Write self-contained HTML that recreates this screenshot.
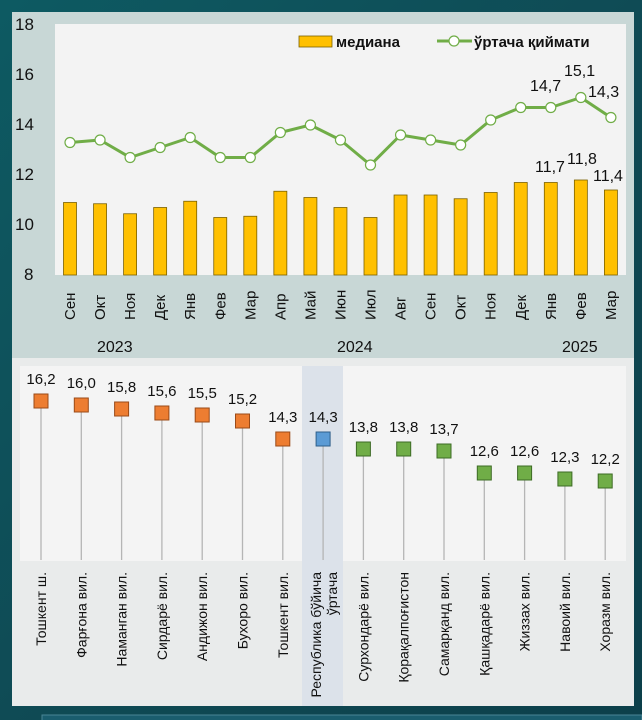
<!DOCTYPE html>
<html><head><meta charset="utf-8"><style>
html,body{margin:0;padding:0;width:642px;height:720px;overflow:hidden;background:#0f4d57;}
svg{display:block;font-family:"Liberation Sans",sans-serif;}
</style></head><body>
<svg width="642" height="720" viewBox="0 0 642 720">
<defs><linearGradient id="bg" x1="0" y1="0" x2="1" y2="1"><stop offset="0" stop-color="#0d5a62"/><stop offset="0.5" stop-color="#0f4b55"/><stop offset="1" stop-color="#0c3f4a"/></linearGradient></defs>
<rect width="642" height="720" fill="url(#bg)"/>
<rect x="12" y="12" width="622" height="346" fill="#c8d7d6"/>
<rect x="55" y="24" width="571" height="251" fill="#f3f3f3"/>
<rect x="12" y="358" width="622" height="348" fill="#e9ebeb"/>
<rect x="20" y="366" width="606" height="195" fill="#f4f4f4"/>
<rect x="302" y="366" width="41" height="340" fill="#dce2ea"/>
<rect x="42" y="715" width="600" height="10" fill="#1a5d6e" stroke="#4a8595"/>
<g font-size="17" fill="#111">
<text x="15" y="30">18</text><text x="15" y="80">16</text><text x="15" y="130">14</text><text x="15" y="180">12</text><text x="15" y="230">10</text><text x="24" y="280">8</text>
</g>
<g fill="#ffc000" stroke="#7a6000" stroke-width="0.8" id="bars"></g>
<g id="line"></g>
<g id="mon" font-size="15" fill="#111"></g>
<g font-size="16" fill="#111"><text x="97" y="352">2023</text><text x="337" y="352">2024</text><text x="562" y="352">2025</text></g>
<rect x="299" y="36" width="33" height="11" fill="#ffc000" stroke="#7a6000" stroke-width="0.8"/>
<text x="336" y="47" font-size="15" font-weight="bold" fill="#111">медиана</text>
<line x1="437" y1="41" x2="472" y2="41" stroke="#70ad47" stroke-width="3"/>
<circle cx="454" cy="41" r="5" fill="#fff" stroke="#70ad47" stroke-width="1.2"/>
<text x="474" y="47" font-size="15" font-weight="bold" fill="#111">ўртача қиймати</text>
<g font-size="16" fill="#111"><text x="530" y="91">14,7</text><text x="564" y="76">15,1</text><text x="588" y="97">14,3</text>
<text x="535" y="172">11,7</text><text x="567" y="164">11,8</text><text x="593" y="181">11,4</text></g>
<g id="bot"></g>
</svg>
<script>
const ns="http://www.w3.org/2000/svg";
function el(p,t,a,txt){const e=document.createElementNS(ns,t);for(const k in a)e.setAttribute(k,a[k]);if(txt!==undefined)e.textContent=txt;p.appendChild(e);return e;}
const med=[10.9,10.85,10.45,10.7,10.95,10.3,10.35,11.35,11.1,10.7,10.3,11.2,11.2,11.05,11.3,11.7,11.7,11.8,11.4];
const avg=[13.3,13.4,12.7,13.1,13.5,12.7,12.7,13.7,14.0,13.4,12.4,13.6,13.4,13.2,14.2,14.7,14.7,15.1,14.3];
const mon=["Сен","Окт","Ноя","Дек","Янв","Фев","Мар","Апр","Май","Июн","Июл","Авг","Сен","Окт","Ноя","Дек","Янв","Фев","Мар"];
const Y=v=>275-25*(v-8);const X=i=>70+i*30.05;
const bars=document.getElementById("bars"),line=document.getElementById("line"),m=document.getElementById("mon");
med.forEach((v,i)=>{el(bars,"rect",{x:X(i)-6.5,y:Y(v),width:13,height:275-Y(v)});
el(m,"text",{transform:`translate(${X(i)+5},${320}) rotate(-90)`},mon[i]);});
el(line,"polyline",{points:avg.map((v,i)=>X(i)+","+Y(v)).join(" "),fill:"none",stroke:"#70ad47","stroke-width":3,"stroke-linejoin":"round"});
avg.forEach((v,i)=>el(line,"circle",{cx:X(i),cy:Y(v),r:5,fill:"#fff",stroke:"#70ad47","stroke-width":1.2}));
const vals=[16.2,16.0,15.8,15.6,15.5,15.2,14.3,14.3,13.8,13.8,13.7,12.6,12.6,12.3,12.2];
const lab=["16,2","16,0","15,8","15,6","15,5","15,2","14,3","14,3","13,8","13,8","13,7","12,6","12,6","12,3","12,2"];
const names=["Тошкент ш.","Фарғона вил.","Наманган вил.","Сирдарё вил.","Андижон вил.","Бухоро вил.","Тошкент вил.","","Сурхондарё вил.","Қорақалпоғистон","Самарқанд вил.","Қашқадарё вил.","Жиззах вил.","Навоий вил.","Хоразм вил."];
const b=document.getElementById("bot");
vals.forEach((v,i)=>{const x=41+i*40.3,y=401-(v-16.2)*20;
el(b,"line",{x1:x,y1:y,x2:x,y2:560,stroke:"#b5b5b5","stroke-width":1.3});
const c=i<7?"#ed7d31":(i==7?"#5b9bd5":"#70ad47"),s=i<7?"#9a4a18":(i==7?"#2e5f8a":"#3d6b25");
el(b,"rect",{x:x-7,y:y-7,width:14,height:14,fill:c,stroke:s,"stroke-width":1});
el(b,"text",{x:x,y:y-17,"text-anchor":"middle","font-size":15,fill:"#111"},lab[i]);
if(names[i])el(b,"text",{transform:`translate(${x+5},572) rotate(-90)`,"text-anchor":"end","font-size":14,fill:"#111"},names[i]);});
el(b,"text",{transform:`translate(${323-2},572) rotate(-90)`,"text-anchor":"end","font-size":14,fill:"#111"},"Республика бўйича");
el(b,"text",{transform:`translate(${323+14},572) rotate(-90)`,"text-anchor":"end","font-size":14,fill:"#111"},"ўртача");
</script>
</body></html>
